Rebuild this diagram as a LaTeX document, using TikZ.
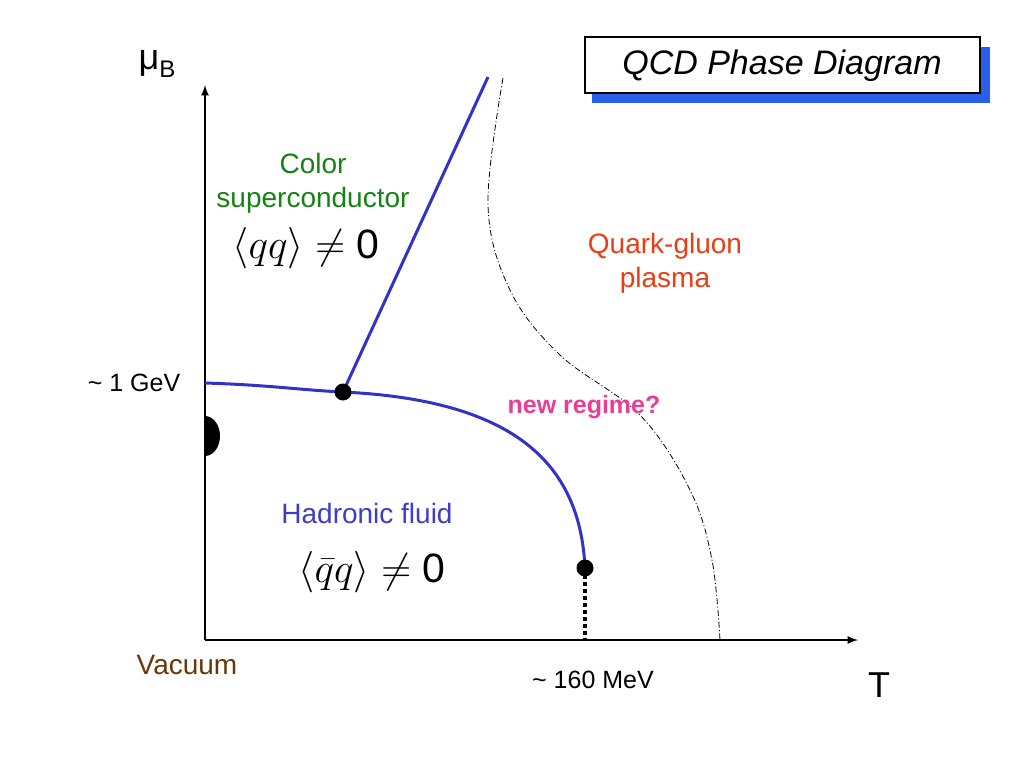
\documentclass[tikz,border=0pt]{standalone}
\usepackage{amssymb}
\usepackage[fleqn]{mathtools}
\usepackage{fontspec}
\setmainfont{Liberation Sans}
\usetikzlibrary{
    arrows,
    calc,
    positioning
}
\definecolor{lineblue}{RGB}{50,50,200}
\definecolor{shadowblue}{RGB}{40,95,235}
\definecolor{scgreen}{RGB}{20,130,20}
\definecolor{qgporange}{RGB}{235,60,20}
\definecolor{regimepink}{RGB}{235,60,150}
\definecolor{hadronblue}{RGB}{60,60,205}
\definecolor{vacbrown}{RGB}{105,55,5}
\tikzset{
    axis/.style={line width=0.8pt, -latex},
    phaseline/.style={lineblue, line width=1.5pt},
    crossover/.style={line width=0.4pt, dash pattern=on 3pt off 1.2pt on 0.5pt off 1.2pt},
    lbl/.style={font=\fontsize{14}{17}\selectfont, align=center},
    small/.style={font=\fontsize{12.5}{15}\selectfont},
    cond/.style={font=\fontsize{20.5}{24}\selectfont}
}

\begin{document}
\begin{tikzpicture}[x=0.5pt, y=-0.5pt]
    \useasboundingbox (0, 0) rectangle (1024, 768);
    \coordinate (origin) at (205, 640);
    \coordinate (tp) at (343, 392);
    \coordinate (cep) at (585, 568);
    % title
    \fill[shadowblue] (592, 47) rectangle (990, 103);
    \draw[fill=white, line width=0.6pt] (585, 37) rectangle (980, 93);
    \node[font=\fontsize{17}{20}\selectfont\itshape] (title) at (782, 66) {QCD Phase Diagram};
    % axes
    \draw[axis] (origin) -- (858, 640);
    \draw[axis] (origin) -- (205, 85);
    \node[font=\fontsize{18}{20}\selectfont] (muB) at (157, 64) {μ\raisebox{-0.4ex}{\fontsize{12}{14}\selectfont B}};
    \node[font=\fontsize{18}{20}\selectfont] (Tlbl) at (879, 685) {T};
    % phase lines
    \draw[phaseline] (205, 383) .. controls (270, 385) and (300, 390) .. (tp)
        .. controls (510, 400) and (580, 460) .. (cep);
    \draw[phaseline] (tp) -- (488, 77);
    \draw[line width=2pt, dash pattern=on 2pt off 1.5pt] (cep) -- (cep |- origin);
    \draw[crossover] plot[smooth, tension=0.6] coordinates {(503, 78) (488, 205) (510, 290) (560, 355) (640, 415) (690, 490) (712, 560) (720, 640)};
    \fill (tp) circle[radius=4.25pt];
    \fill (cep) circle[radius=4.25pt];
    \fill (205, 416) arc[start angle=90, end angle=-90, x radius=7.5pt, y radius=10pt] -- cycle;
    % labels
    \node[small] (gev) at (134, 383) {\~{} 1 GeV};
    \node[small] (mev) at (593, 680) {\~{} 160 MeV};
    \node[lbl, vacbrown] (vac) at (187, 665) {Vacuum};
    \node[lbl, scgreen] (csc) at (313, 183) {Color\\superconductor};
    \node[cond] (qq) at (306, 248) {$\langle qq\rangle \neq \mbox{0}$};
    \node[lbl, qgporange] (qgp) at (665, 263) {Quark-gluon\\plasma};
    \node[small, regimepink, font=\fontsize{12.5}{15}\selectfont\bfseries] (newreg) at (584, 407) {new regime?};
    \node[lbl, hadronblue] (had) at (367, 513) {Hadronic fluid};
    \node[cond] (qbarq) at (372, 572) {$\langle \bar{q}q\rangle \neq \mbox{0}$};
\end{tikzpicture}
\end{document}
